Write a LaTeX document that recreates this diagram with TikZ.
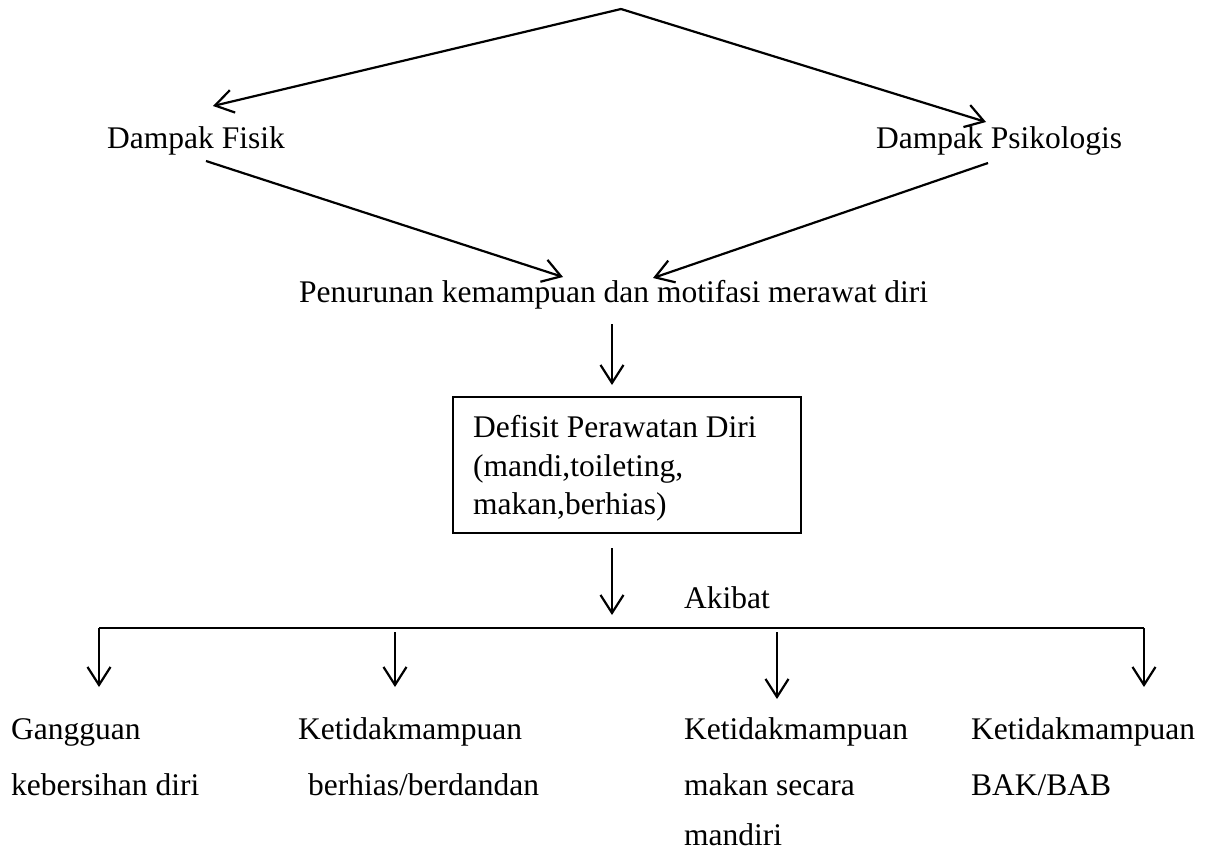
\documentclass[tikz,border=0pt]{standalone}
\usepackage{fontspec}
\setmainfont{Liberation Serif}
\usetikzlibrary{arrows.meta}
\begin{document}
\begin{tikzpicture}[x=1pt,y=-1pt,
  conn/.style={line width=2.2pt},
  arr/.style={conn,-{Straight Barb[length=18pt,width=23pt]}},
  lbl/.style={anchor=base west,inner sep=0pt,font=\fontsize{31.5}{36}\selectfont},
  boxstyle/.style={draw,line width=2pt,anchor=north west,inner sep=0pt,minimum width=348pt,minimum height=136pt}]
\useasboundingbox (0,0) rectangle (1211,852);

% text nodes
\node[lbl] (fisik) at (107,148) {Dampak Fisik};
\node[lbl] (psiko) at (876,148) {Dampak Psikologis};
\node[lbl] (turun) at (299,302) {Penurunan kemampuan dan motifasi merawat diri};
\node[boxstyle] (dpd) at (452,396) {};
\node[lbl] (dpdA) at (473,437) {Defisit Perawatan Diri};
\node[lbl] (dpdB) at (473,476) {(mandi,toileting,};
\node[lbl] (dpdC) at (473,514) {makan,berhias)};
\node[lbl] (akibat) at (684,608) {Akibat};

\node[lbl] (gA) at (11,739) {Gangguan};
\node[lbl] (gB) at (11,795) {kebersihan diri};
\node[lbl] (hA) at (298,739) {Ketidakmampuan};
\node[lbl] (hB) at (308,795) {berhias/berdandan};
\node[lbl] (mA) at (684,739) {Ketidakmampuan};
\node[lbl] (mB) at (684,795) {makan secara};
\node[lbl] (mC) at (684,845) {mandiri};
\node[lbl] (bA) at (971,739) {Ketidakmampuan};
\node[lbl] (bB) at (971,795) {BAK/BAB};

% connector end points
\coordinate (apex) at (621,9);
\coordinate (fisikIn) at (213,106);
\coordinate (psikoIn) at (986,122);
\coordinate (fisikOut) at (206,161);
\coordinate (psikoOut) at (988,163);
\coordinate (turunInL) at (563,277);
\coordinate (turunInR) at (653,278);
\coordinate (turunOut) at (612,324);
\coordinate (dpdIn) at (612,385);
\coordinate (dpdOut) at (612,548);
\coordinate (akibatIn) at (612,615);
\coordinate (barL) at (99,628);
\coordinate (barR) at (1144,628);
\coordinate (dropB) at (395,632);
\coordinate (dropC) at (777,632);
\coordinate (gIn) at (99,687);
\coordinate (hIn) at (395,687);
\coordinate (mIn) at (777,699);
\coordinate (bIn) at (1144,687);

% connectors
\draw[arr] (apex) -- (fisikIn);
\draw[arr] (apex) -- (psikoIn);
\draw[arr] (fisikOut) -- (turunInL);
\draw[arr] (psikoOut) -- (turunInR);
\draw[arr] (turunOut) -- (dpdIn);
\draw[arr] (dpdOut) -- (akibatIn);
\draw[conn] (barL) -- (barR);
\draw[arr] (barL) -- (gIn);
\draw[arr] (dropB) -- (hIn);
\draw[arr] (dropC) -- (mIn);
\draw[arr] (barR) -- (bIn);
\end{tikzpicture}
\end{document}
